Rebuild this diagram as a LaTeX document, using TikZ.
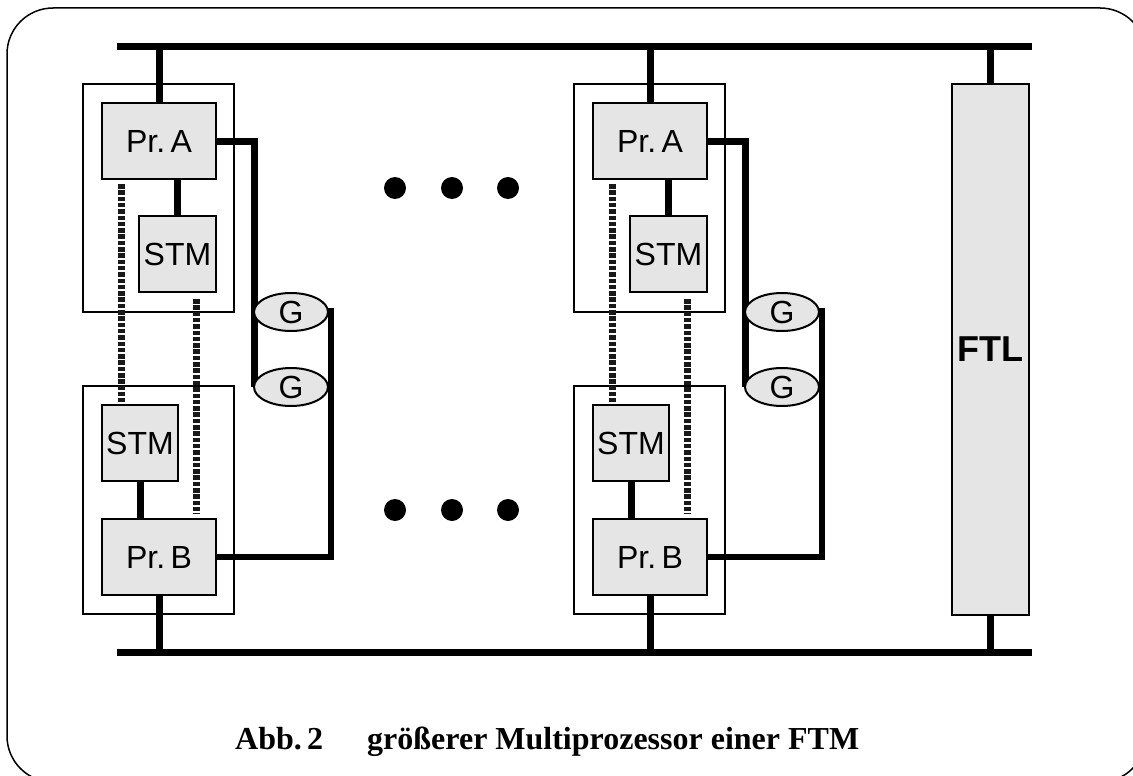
\documentclass[tikz,border=0pt]{standalone}
\usepackage{fontspec}
\setmainfont{Liberation Serif}
\setsansfont{Liberation Sans}
\usetikzlibrary{shapes.geometric}
\begin{document}
\begin{tikzpicture}[x=1pt,y=-1pt,
  bus/.style={line width=7pt},
  conn/.style={line width=7pt},
  gconn/.style={line width=6.5pt},
  frame/.style={line width=1.5pt, rounded corners=46pt},
  module/.style={draw, line width=2pt, inner sep=0pt, minimum width=151pt, minimum height=228pt},
  unit/.style={draw, line width=2pt, fill=black!10, inner sep=0pt, minimum height=76pt, font=\sffamily\fontsize{32}{38}\selectfont},
  proc/.style={unit, minimum width=114pt},
  stm/.style={unit, minimum width=77pt},
  gnode/.style={ellipse, draw, line width=2pt, fill=black!10, minimum width=74pt, minimum height=38pt, inner sep=0pt, font=\sffamily\fontsize{32}{36}\selectfont},
  dotline/.style={line width=7pt, draw=black!90, dash pattern=on 4.5pt off 1.8pt},
  dotc/.style={circle, fill=black, minimum size=22pt, inner sep=0pt},
  captext/.style={anchor=base west, inner sep=0pt, font=\rmfamily\bfseries\fontsize{32}{38}\selectfont}]
\useasboundingbox (0,0) rectangle (1133,776);
% frame
\draw[frame] (7,8) rectangle (1146,782);
% buses
\coordinate (busTL) at (117,47);
\coordinate (busTR) at (1032,47);
\coordinate (busBL) at (117,652);
\coordinate (busBR) at (1032,652);
\draw[bus] (busTL) -- (busTR);
\draw[bus] (busBL) -- (busBR);
% modules
\foreach \dx/\i in {0/1,491/2}{
  \node[module] (MA\i) at ({\dx+158.5},198) {};
  \node[module] (MB\i) at ({\dx+158.5},500) {};
  \node[proc] (PrA\i) at ({\dx+159},141) {Pr.\,A};
  \node[stm] (STMa\i) at ({\dx+177.5},254) {STM};
  \node[stm, minimum width=76pt] (STMb\i) at ({\dx+140},443) {STM};
  \node[proc] (PrB\i) at ({\dx+159},557) {Pr.\,B};
  \draw[conn] (PrA\i.north) -- (PrA\i.north |- busTL);
  \draw[conn] (PrB\i.south) -- (PrB\i.south |- busBL);
  \draw[conn] (PrA\i.south -| STMa\i) -- (STMa\i.north);
  \draw[conn] (STMb\i.south) -- (STMb\i.south |- PrB\i.north);
  \draw[dotline] ([xshift=-38pt,yshift=-4pt]PrA\i.south) -- ([xshift=-19pt,yshift=2pt]STMb\i.north);
  \draw[dotline] ([xshift=18.5pt,yshift=-6pt]STMa\i.south) -- ([xshift=37pt,yshift=4pt]PrB\i.north);
  \coordinate (Gt\i) at ({\dx+291},312);
  \coordinate (Gb\i) at ({\dx+291},387);
  \draw[conn] (PrA\i.east) -| ([xshift=-37pt]Gb\i);
  \draw[gconn] ([xshift=40pt,yshift=4pt]Gt\i) |- (PrB\i.east);
  \node[gnode] (G1\i) at (Gt\i) {G};
  \node[gnode] (G2\i) at (Gb\i) {G};
}
% FTL
\node[unit, minimum width=77pt, minimum height=531pt, font=\sffamily\bfseries\fontsize{36}{40}\selectfont] (FTL) at (990.5,349.5) {\raisebox{-5pt}{FTL}};
\draw[conn] (FTL.north) -- (FTL.north |- busTL);
\draw[conn] (FTL.south) -- (FTL.south |- busBL);
% ellipsis dots
\node[dotc] (d1) at (395,188) {};
\node[dotc] (d2) at (452,188) {};
\node[dotc] (d3) at (508,188) {};
\node[dotc] (d4) at (395,510) {};
\node[dotc] (d5) at (452,510) {};
\node[dotc] (d6) at (508,510) {};
% caption
\node[captext] (cap1) at (235,749) {Abb.\,2};
\node[captext] (cap2) at (367,749) {größerer Multiprozessor einer FTM};
\end{tikzpicture}
\end{document}
